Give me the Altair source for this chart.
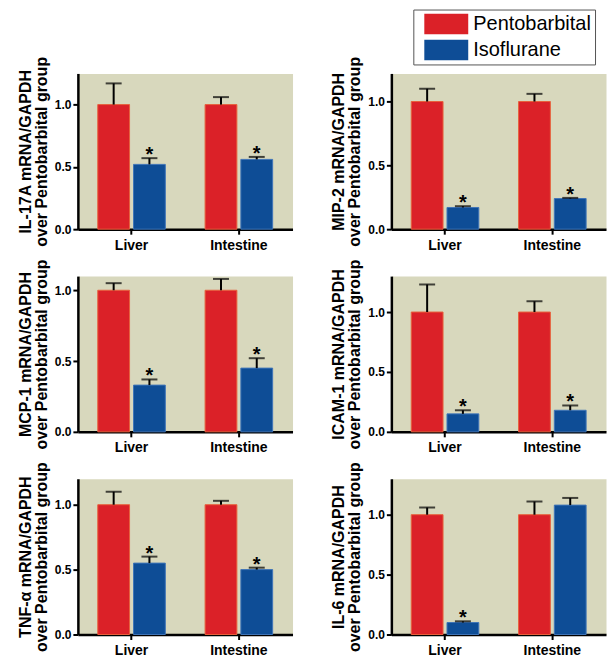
import altair as alt
import pandas as pd

markers = ["IL-17A", "MIP-2", "MCP-1", "ICAM-1", "TNF-α", "IL-6"]
organs = ["Liver", "Intestine"]
groups = ["Pentobarbital", "Isoflurane"]

# means (relative to pentobarbital group), [Liver, Intestine]
pento_mean = [[1.0, 1.0], [1.0, 1.0], [1.0, 1.0], [1.0, 1.0], [1.0, 1.0], [1.0, 1.0]]
pento_sem = [[0.17, 0.06], [0.10, 0.06], [0.05, 0.08], [0.23, 0.09], [0.10, 0.03], [0.06, 0.11]]
iso_mean = [[0.52, 0.56], [0.17, 0.24], [0.33, 0.45], [0.15, 0.18], [0.55, 0.50], [0.10, 1.08]]
iso_sem = [[0.05, 0.02], [0.01, 0.005], [0.04, 0.07], [0.03, 0.04], [0.05, 0.015], [0.01, 0.06]]
iso_sig = [[1, 1], [1, 1], [1, 1], [1, 1], [1, 1], [1, 0]]
y_max = [1.25, 1.22, 1.10, 1.30, 1.20, 1.30]
y_ticks = [0.0, 0.5, 1.0]

RED = "#db2128"
BLUE = "#0e4d96"

def panel(i):
    rows = []
    for j, org in enumerate(organs):
        rows.append({"organ": org, "group": groups[0], "mean": pento_mean[i][j],
                     "upper": pento_mean[i][j] + pento_sem[i][j], "sig": 0})
        rows.append({"organ": org, "group": groups[1], "mean": iso_mean[i][j],
                     "upper": iso_mean[i][j] + iso_sem[i][j], "sig": iso_sig[i][j]})
    df = pd.DataFrame(rows)
    yscale = alt.Scale(domain=[0, y_max[i]], nice=False)
    yaxis = alt.Axis(values=y_ticks, format=".1f",
                     title=[f"{markers[i]} mRNA/GAPDH", "over Pentobarbital group"])
    base = alt.Chart(df).encode(
        x=alt.X("organ:N", sort=organs,
                scale=alt.Scale(paddingInner=0, paddingOuter=0),
                axis=alt.Axis(title=None, labelAngle=0)),
        xOffset=alt.XOffset("group:N", sort=groups,
                            scale=alt.Scale(paddingInner=0.111, paddingOuter=0.556)),
    )
    bars = base.mark_bar(strokeWidth=1).encode(
        y=alt.Y("mean:Q", scale=yscale, axis=yaxis),
        color=alt.Color("group:N", sort=groups,
                        scale=alt.Scale(domain=groups, range=[RED, BLUE]),
                        legend=alt.Legend(title=None, orient="none", legendX=336, legendY=-64,
                                          direction="vertical",
                                          symbolType="M-1,-0.477H1V0.477H-1Z",
                                          symbolSize=1936, symbolStrokeWidth=0,
                                          clipHeight=21,
                                          labelFontSize=20, labelFont="Liberation Sans",
                                          labelColor="black",
                                          padding=4, rowPadding=5, symbolOffset=7,
                                          labelOffset=5, strokeColor="#555",
                                          fillColor="white")),
        stroke=alt.Stroke("group:N", sort=groups,
                          scale=alt.Scale(domain=groups, range=["#e8603c", "#3f74b8"]),
                          legend=None),
    )
    rule = base.mark_rule(color="black", strokeWidth=2).encode(
        y=alt.Y("mean:Q", scale=yscale, axis=yaxis), y2="upper:Q")
    cap = base.mark_tick(color="black", thickness=2, size=16).encode(
        y=alt.Y("upper:Q", scale=yscale, axis=yaxis))
    star = base.transform_filter(alt.datum.sig == 1).mark_text(
        text="*", font="Liberation Sans", fontWeight="bold", fontSize=20,
        baseline="alphabetic", dy=3, color="black").encode(
        y=alt.Y("upper:Q", scale=yscale, axis=yaxis))
    return alt.layer(bars, rule, cap, star).properties(width=215, height=156)

chart = alt.concat(*[panel(i) for i in range(6)], columns=2,
                   spacing={"row": 47, "column": 99}, bounds="flush").resolve_scale(
    color="shared", stroke="shared"
).properties(
    padding={"left": 8, "top": 0, "right": 0, "bottom": 0}
).configure_view(
    fill="#d8d8bd", stroke="transparent"
).configure_axis(
    domainColor="black", domainWidth=2.5, tickColor="black", tickWidth=2, tickSize=5,
    labelFont="Liberation Sans", labelFontWeight="bold", labelColor="black",
    titleFont="Liberation Sans", titleFontWeight="bold", titleColor="black", grid=False
).configure_axisY(
    labelFontSize=12, titleFontSize=16, titleLineHeight=16, titlePadding=5, labelPadding=2
).configure_axisX(
    labelFontSize=14, labelPadding=4
)

chart.save("out.html", embed_options={"renderer": "svg", "actions": False})
